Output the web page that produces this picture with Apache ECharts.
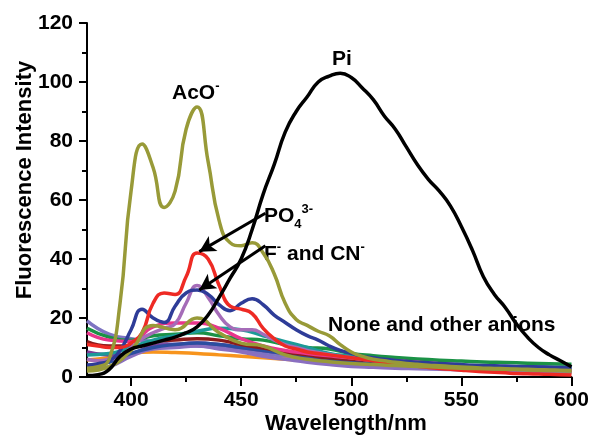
<!DOCTYPE html>
<html>
<head>
<meta charset="utf-8">
<script src="https://cdn.jsdelivr.net/npm/echarts@6/dist/echarts.min.js"></script>
<style>
  html, body { margin: 0; padding: 0; background: #fff; }
  #chart { width: 592px; height: 435px; }
</style>
</head>
<body>
<div id="chart"></div>
<script>
// wavelengths (nm)
const wl5 = [380,385,390,395,400,405,410,415,420,425,430,435,440,445,450,455,460,465,470,475,480,485,490,495,500,505,510,515,520,525,530,535,540,545,550,555,560,565,570,575,580,585,590,595,600]
const wl10 = [380,390,400,410,420,430,440,450,460,470,480,490,500,510,520,530,540,550,560,570,580,590,600]

// highlighted anions (5 nm step)
const piVals = [0.5,0.8,2.5,7,9.5,10.5,11.5,12.5,13.5,15,17,21,27,33.5,40,50,62,72,83,90,95,100,102,103,101.5,98,94,88.5,84,78,72,67,63,58,51,43,34,28,23.5,18,13.5,10,7.5,5.5,3.5]
const acoVals = [3,3.5,6,25,63,79,71,57.5,63,84,91.5,73,53,45.5,44.5,45.5,42,35,25,19.5,17.5,15.5,14,11,8.5,7,6,5.5,5,4.6,4.3,4,3.8,3.6,3.4,3.2,3,2.9,2.8,2.7,2.6,2.5,2.4,2.3,2.2]
const po4Vals = [11,10.5,10,10,11.5,15,25,28.5,28,34,42,40,31,24,23,21.5,16.5,13,10.5,9.5,8.5,8,7.5,7,6.5,6,5.5,5,4.5,4,3.6,3.2,2.9,2.6,2.3,2,1.8,1.6,1.4,1.2,1.1,1,0.9,0.8,0.7]
const fVals = [4,4.5,5.5,9,16,23,20,18.5,24,28.5,29.5,28,24.5,22.5,25,26.5,24.5,21,18.5,16,14,12.5,10.5,9,8,7,6.5,6,5.6,5.3,5,4.8,4.6,4.4,4.2,4,3.9,3.8,3.7,3.6,3.5,3.4,3.3,3.2,3.1]
const cnVals = [6,5.5,6,7,10,13,15,16.5,18,25,31,27,21,17,16,16,14.5,12.5,11,10,9,8.3,7.6,7,6.5,6,5.6,5.2,4.9,4.6,4.3,4.1,3.9,3.7,3.5,3.3,3.2,3.1,3,2.9,2.8,2.7,2.6,2.5,2.5]

// none and other anions (10 nm step)
const oliveVals = [2,3.5,9,17.5,16,20,15,11.5,10.5,7.5,6,5.2,4.6,4.2,3.9,3.6,3.3,3,2.8,2.6,2.4,2.2,2]
const pinkVals = [15,12.5,12,17,18.3,18.3,16.5,13,10.5,9,8,7.2,6.5,6,5.5,5,4.5,4,3.6,3.2,2.9,2.6,2.3]
const greenVals = [16.5,13.5,12.5,14,14.5,15,14,13,12.5,11,10,9.5,8,7.2,6.6,6.1,5.7,5.4,5.1,4.9,4.7,4.5,4.3]
const tealVals = [7.5,8,10,12.5,14,15.5,16.5,16,14,12,10,8,7,6,5.3,4.8,4.4,4,3.7,3.4,3.2,3,2.8]
const darkRedVals = [12,10.5,10.5,12,12.5,13,12.5,11,9.8,8.5,7.5,6.5,6,5.5,5,4.6,4.2,3.8,3.4,3.1,2.8,2.5,2.3]
const lavenderVals = [19,14.5,13,12,11,10.5,10,9,8,7,6.2,5.6,5,4.5,4,3.6,3.2,2.9,2.6,2.4,2.2,2,1.8]
const orangeVals = [5.8,6.5,8,8.5,8.3,8,7.5,7,6.5,6,5.5,5,4.6,4.2,3.8,3.4,3,2.7,2.4,2.1,1.9,1.7,1.5]
const violetVals = [8.5,7.5,8,10.5,11,11.5,11,10,9,8,7,6.3,5.6,5,4.5,4,3.6,3.2,2.9,2.6,2.4,2.2,2]
const steelVals = [2.4,3.5,7,9.5,10,10.5,9.5,8.5,7,6,5,4.2,3.6,3.3,3,2.8,2.6,2.4,2.2,2,1.9,1.8,1.7]
const navyVals = [4,5,8,10,11,11.5,11,10,9,8,7,6,5.3,4.9,4.6,4.3,4.1,3.9,3.7,3.5,3.4,3.3,3.2]

const xMajor = [400, 450, 500, 550, 600]
const xMinor = [425, 475, 525, 575]

const font = 'Liberation Sans, Arial, sans-serif'

const pair = (xs, ys) => xs.map((x, i) => [x, ys[i]])

const curve = (name, xs, ys, color, width) => ({
  name,
  type: 'line',
  data: pair(xs, ys),
  smooth: 0.5,
  symbol: 'none',
  lineStyle: { color, width: width || 3.5 },
  itemStyle: { color },
  silent: true
})

const chart = echarts.init(document.getElementById('chart'))

const arrowLine = (from, to) => [{ coord: from }, { coord: to }]

const series = [
  curve('lavender', wl10, lavenderVals, '#7e74c2'),
  curve('orange', wl10, orangeVals, '#f7941d'),
  curve('violet', wl10, violetVals, '#7d3c98'),
  curve('steel', wl10, steelVals, '#8a6fc0'),
  curve('navy', wl10, navyVals, '#2b4ea0'),
  curve('darkred', wl10, darkRedVals, '#8c1b1b'),
  curve('green', wl10, greenVals, '#1b9246'),
  curve('teal', wl10, tealVals, '#1c9a98'),
  curve('pink', wl10, pinkVals, '#e8358b'),
  curve('CN', wl5, cnVals, '#a56cb8'),
  curve('F', wl5, fVals, '#2e3c98'),
  curve('PO4', wl5, po4Vals, '#ee2a24'),
  curve('olive', wl10, oliveVals, '#989a38'),
  curve('AcO', wl5, acoVals, '#989a38'),
  Object.assign(curve('Pi', wl5, piVals, '#000000', 3.5), {
    markLine: {
      silent: true,
      symbol: ['none', 'arrow'],
      symbolSize: [13, 16],
      label: { show: false },
      lineStyle: { color: '#000', width: 3, type: 'solid' },
      data: [
        arrowLine([461, 55.5], [431, 42.5]),
        arrowLine([461, 44.5], [431, 29.5])
      ]
    }
  })
]

const rich = {
  b: { fontSize: 21, fontWeight: 'bold', fontFamily: font, verticalAlign: 'bottom', lineHeight: 24 },
  sup: { fontSize: 13, fontWeight: 'bold', fontFamily: font, verticalAlign: 'top', lineHeight: 24 },
  sub: { fontSize: 13, fontWeight: 'bold', fontFamily: font, verticalAlign: 'bottom', lineHeight: 24, padding: [0, 0, -4, 0] }
}

const note = (left, top, text) => ({ type: 'text', left, top, style: { text, rich } })

chart.setOption({
  animation: false,
  backgroundColor: '#fff',
  grid: { left: 87, right: 20, top: 23, bottom: 58 },
  xAxis: [{
    type: 'value',
    min: 380,
    max: 600,
    axisLine: { show: true, lineStyle: { color: '#000', width: 2 } },
    axisTick: { show: true, inside: false, length: 9, lineStyle: { color: '#000', width: 2 }, customValues: xMajor },
    axisLabel: { color: '#000', fontFamily: font, fontWeight: 'bold', fontSize: 21, margin: 13, customValues: xMajor },
    splitLine: { show: false }
  }, {
    type: 'value',
    min: 380,
    max: 600,
    position: 'bottom',
    axisLine: { show: false },
    axisTick: { show: true, length: 5, lineStyle: { color: '#000', width: 2 }, customValues: xMinor },
    axisLabel: { show: false },
    splitLine: { show: false }
  }],
  yAxis: {
    type: 'value',
    min: 0,
    max: 120,
    interval: 20,
    axisLine: { show: true, lineStyle: { color: '#000', width: 2 } },
    axisTick: { show: true, length: 8, lineStyle: { color: '#000', width: 2 } },
    minorTick: { show: true, splitNumber: 2, length: 5, lineStyle: { color: '#000', width: 2 } },
    axisLabel: { color: '#000', fontFamily: font, fontWeight: 'bold', fontSize: 21, margin: 14 },
    splitLine: { show: false }
  },
  graphic: [
    {
      type: 'text', x: 25, y: 180, rotation: Math.PI / 2,
      style: { text: 'Fluorescence Intensity', font: 'bold 22px ' + font, fill: '#000', align: 'center', verticalAlign: 'middle' }
    },
    {
      type: 'text', x: 346, y: 424,
      style: { text: 'Wavelength/nm', font: 'bold 22px ' + font, fill: '#000', align: 'center', verticalAlign: 'middle' }
    },
    note(332, 49, '{b|Pi}'),
    note(172, 80, '{b|AcO}{sup|-}'),
    note(264, 203, '{b|PO}{sub|4}{sup|3-}'),
    note(264, 241, '{b|F}{sup|-}{b| and CN}{sup|-}'),
    note(328, 315, '{b|None and other anions}')
  ],
  series
})
</script>
</body>
</html>
